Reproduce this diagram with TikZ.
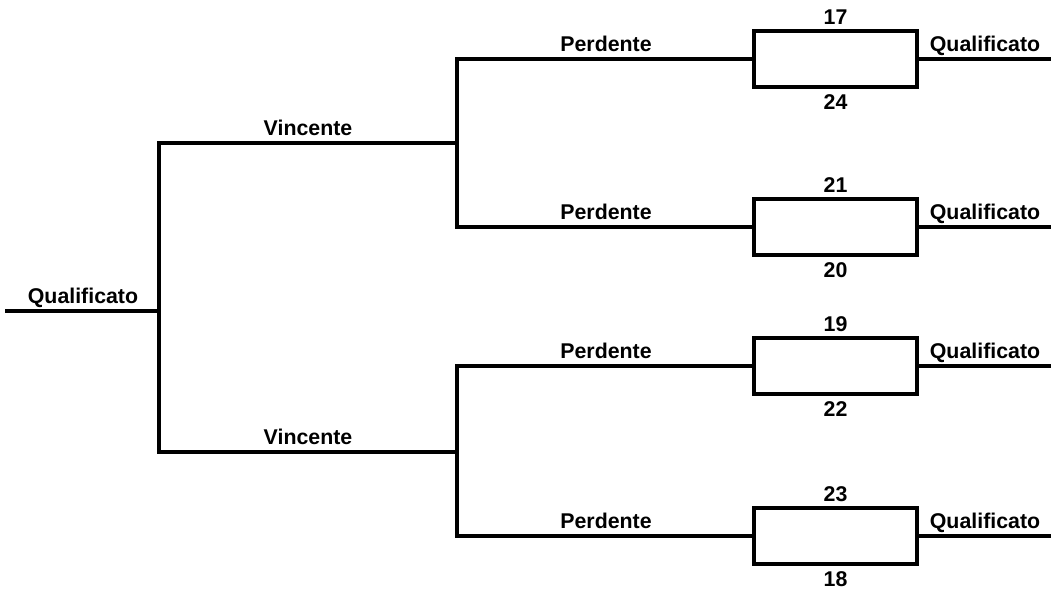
\documentclass[tikz,border=0pt]{standalone}
\usepackage{fontspec}
\setmainfont{Liberation Sans}
\begin{document}
\begin{tikzpicture}[x=0.75pt,y=-0.75pt,
  wire/.style={line width=3pt,line join=miter,line cap=rect},
  lbl/.style={font=\fontsize{16}{19}\selectfont\bfseries,inner sep=0pt,anchor=base},
  matchbox/.style={draw,line width=3pt,minimum width=163*0.75pt,minimum height=56*0.75pt,inner sep=0pt}]
\useasboundingbox (0,0) rectangle (1052,593);
% junctions
\coordinate (L0) at (5,311);
\coordinate (J0) at (159,311);
\coordinate (J1) at (457,143);
\coordinate (J2) at (457,452);
% boxes
\node[matchbox] (b1) at (835.5,59.3) {};
\node[matchbox] (b2) at (835.5,227.3) {};
\node[matchbox] (b3) at (835.5,366.3) {};
\node[matchbox] (b4) at (835.5,536.3) {};
\coordinate (r1) at (1051,59.3);
\coordinate (r2) at (1051,227.3);
\coordinate (r3) at (1051,366.3);
\coordinate (r4) at (1051,536.3);
% connectors
\draw[wire,line cap=butt] (L0) -- (J0);
\draw[wire] (J1) -| (J0) |- (J2);
\draw[wire] (b1.west) -| (J1) |- (b2.west);
\draw[wire] (b3.west) -| (J2) |- (b4.west);
\draw[wire,line cap=butt] (b1.east) -- (r1);
\draw[wire,line cap=butt] (b2.east) -- (r2);
\draw[wire,line cap=butt] (b3.east) -- (r3);
\draw[wire,line cap=butt] (b4.east) -- (r4);
% labels
\node[lbl] (tq) at (83,303.5) {Qualificato};
\node[lbl] (tv1) at (308,135.5) {Vincente};
\node[lbl] (tv2) at (308,444.5) {Vincente};
\node[lbl] (tp1) at (606,51.5) {Perdente};
\node[lbl] (tp2) at (606,219.5) {Perdente};
\node[lbl] (tp3) at (606,358.5) {Perdente};
\node[lbl] (tp4) at (606,528.5) {Perdente};
\node[lbl] (q1) at (985,51.5) {Qualificato};
\node[lbl] (q2) at (985,219.5) {Qualificato};
\node[lbl] (q3) at (985,358.5) {Qualificato};
\node[lbl] (q4) at (985,528.5) {Qualificato};
\node[lbl] (n1a) at (835.5,24) {17};
\node[lbl] (n1b) at (835.5,109) {24};
\node[lbl] (n2a) at (835.5,192) {21};
\node[lbl] (n2b) at (835.5,277) {20};
\node[lbl] (n3a) at (835.5,331) {19};
\node[lbl] (n3b) at (835.5,416) {22};
\node[lbl] (n4a) at (835.5,501) {23};
\node[lbl] (n4b) at (835.5,586) {18};
\end{tikzpicture}
\end{document}
